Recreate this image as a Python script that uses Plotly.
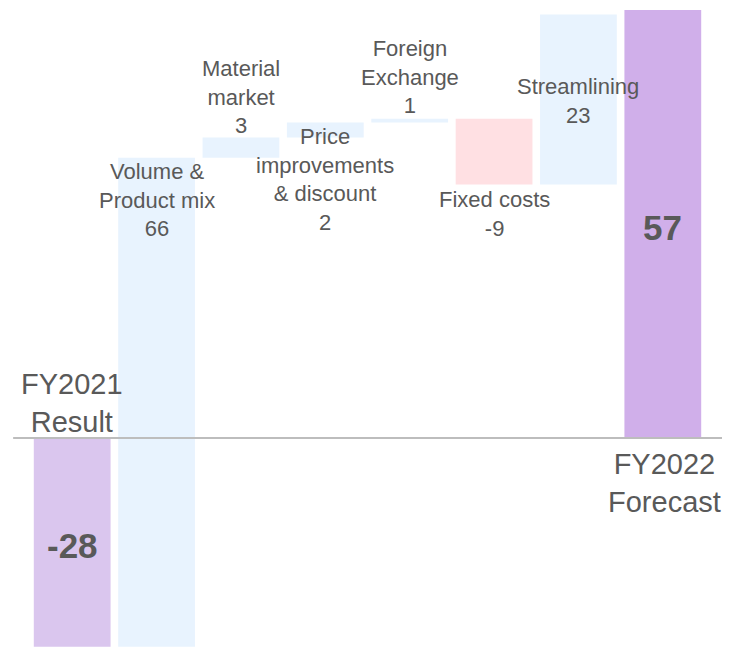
import plotly.graph_objects as go

categories = ["FY2021 Result", "Volume & Product mix", "Material market",
              "Price improvements & discount", "Foreign Exchange", "Fixed costs",
              "Streamlining", "FY2022 Forecast"]
label_text = ["FY2021<br>Result", "Volume &<br>Product mix<br>66", "Material<br>market<br>3",
              "Price<br>improvements<br>& discount<br>2", "Foreign<br>Exchange<br>1",
              "Fixed costs<br>-9", "Streamlining<br>23", "FY2022<br>Forecast"]
values = [-28.0, 65.6, 2.7, 2.0, 0.5, -8.8, 22.8, 57.4]
kinds = ["total", "delta", "delta", "delta", "delta", "delta", "delta", "total"]
big_labels = {0: "-28", 7: "57"}

colors = {"start": "#dac6ee", "end": "#d0afea", "up": "#e8f3fe", "down": "#ffe0e3"}
TXT = "#595959"
FONT = "Liberation Sans, Arial, sans-serif"

bases, heights, bar_colors = [], [], []
run = 0.0
for i, (v, k) in enumerate(zip(values, kinds)):
    if k == "total":
        bases.append(0.0)
        heights.append(v)
        bar_colors.append(colors["start"] if i == 0 else colors["end"])
        run = v
    else:
        bases.append(run)
        heights.append(v)
        bar_colors.append(colors["up"] if v >= 0 else colors["down"])
        run += v

x_idx = list(range(len(categories)))
fig = go.Figure(go.Bar(x=x_idx, y=heights, base=bases, marker=dict(color=bar_colors, line=dict(width=0)),
                       hoverinfo="skip"))

ymin, ymax = -28.17, 57.67

ann = []
for i in x_idx:
    b, h = bases[i], heights[i]
    lo, hi = min(b, b + h), max(b, b + h)
    if i == 0:
        ann.append(dict(x=i, y=0, text=label_text[i], yanchor="bottom", font_size=29, yshift=-2))
        ann.append(dict(x=i, y=(lo + hi) / 2, text="<b>%s</b>" % big_labels[i], yanchor="middle", font_size=35, yshift=-3))
    elif i == 7:
        ann.append(dict(x=i, y=0, text=label_text[i], yanchor="top", font_size=29, xshift=2, yshift=-8))
        ann.append(dict(x=i, y=(lo + hi) / 2, text="<b>%s</b>" % big_labels[i], yanchor="middle", font_size=35, yshift=-4))
    elif i == 1:
        ann.append(dict(x=i, y=hi, text=label_text[i], yanchor="top", font_size=22, yshift=1))
    elif i == 2:
        ann.append(dict(x=i, y=hi, text=label_text[i], yanchor="bottom", font_size=22, yshift=-2))
    elif i == 3:
        ann.append(dict(x=i, y=hi, text=label_text[i], yanchor="top", font_size=22, yshift=1))
    elif i == 4:
        ann.append(dict(x=i, y=hi, text=label_text[i], yanchor="bottom", font_size=22, yshift=-1))
    elif i == 5:
        ann.append(dict(x=i, y=lo, text=label_text[i], yanchor="top", font_size=22, yshift=-1))
    elif i == 6:
        ann.append(dict(x=i, y=(lo + hi) / 2, text=label_text[i], yanchor="middle", font_size=22, yshift=-2))

annotations = []
for a in ann:
    fs = a.pop("font_size")
    annotations.append(dict(xref="x", yref="y", showarrow=False, xanchor="center",
                            font=dict(family=FONT, size=fs, color=TXT), **a))

zero_paper = (0 - ymin) / (ymax - ymin)

fig.update_layout(
    width=722, height=640,
    margin=dict(l=22, r=25, t=0, b=0),
    paper_bgcolor="white", plot_bgcolor="white",
    showlegend=False, bargap=0.09,
    xaxis=dict(range=[-0.5, 7.5], visible=False),
    yaxis=dict(range=[ymin, ymax], visible=False),
    annotations=annotations,
    shapes=[dict(type="line", xref="paper", yref="paper", x0=-0.025, x1=1.04,
                 y0=zero_paper, y1=zero_paper, line=dict(color="#bdbdbd", width=2), layer="above")],
)

fig.write_html("out.html")
